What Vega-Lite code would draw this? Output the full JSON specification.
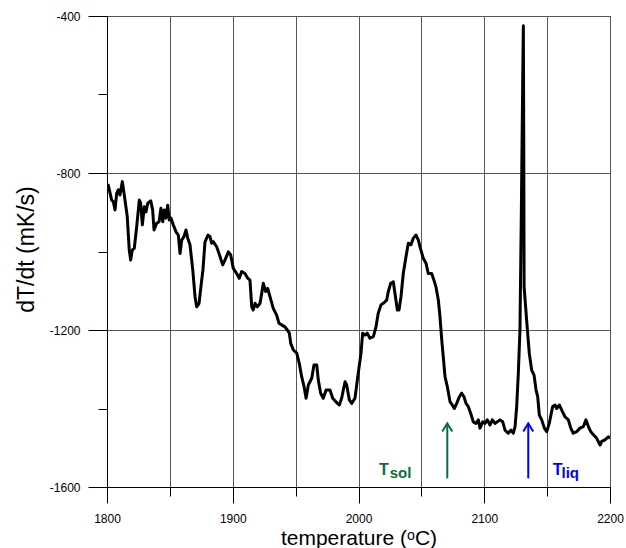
{
  "$schema": "https://vega.github.io/schema/vega-lite/v6.json",
  "autosize": "none",
  "width": 503,
  "height": 471,
  "padding": {"left": 107, "top": 16, "right": 16, "bottom": 61},
  "background": "white",
  "config": {
    "font": "Liberation Sans",
    "view": {"stroke": "#000000", "strokeWidth": 1},
    "axis": {"labelFont": "Liberation Sans", "titleFont": "Liberation Sans", "labelColor": "#000000", "titleColor": "#000000", "tickColor": "#000000", "domainColor": "#000000", "gridColor": "#555555", "gridOpacity": 1, "labelFontSize": 12, "titleFontWeight": "normal", "labelFlush": false}
  },
  "datasets": {
    "curve": [
      {"temperature":1800.0,"dTdt":-838},{"temperature":1801.0,"dTdt":-831},{"temperature":1803.7,"dTdt":-869},{"temperature":1805.0,"dTdt":-873},{"temperature":1806.4,"dTdt":-894},{"temperature":1807.7,"dTdt":-852},{"temperature":1809.0,"dTdt":-843},{"temperature":1810.3,"dTdt":-856},{"temperature":1812.2,"dTdt":-822},{"temperature":1814.3,"dTdt":-869},{"temperature":1816.1,"dTdt":-911},{"temperature":1817.7,"dTdt":-996},{"temperature":1818.8,"dTdt":-1022},{"temperature":1820.1,"dTdt":-996},{"temperature":1821.7,"dTdt":-992},{"temperature":1823.6,"dTdt":-937},{"temperature":1825.7,"dTdt":-869},{"temperature":1826.8,"dTdt":-877},{"temperature":1828.1,"dTdt":-932},{"temperature":1829.7,"dTdt":-886},{"temperature":1831.0,"dTdt":-899},{"temperature":1832.4,"dTdt":-877},{"temperature":1834.8,"dTdt":-871},{"temperature":1836.3,"dTdt":-894},{"temperature":1837.4,"dTdt":-945},{"temperature":1839.5,"dTdt":-928},{"temperature":1841.4,"dTdt":-924},{"temperature":1842.9,"dTdt":-890},{"temperature":1844.3,"dTdt":-924},{"temperature":1845.6,"dTdt":-894},{"temperature":1846.9,"dTdt":-915},{"temperature":1848.3,"dTdt":-882},{"temperature":1849.5,"dTdt":-920},{"temperature":1850.9,"dTdt":-915},{"temperature":1852.7,"dTdt":-932},{"temperature":1854.9,"dTdt":-950},{"temperature":1856.7,"dTdt":-958},{"temperature":1858.1,"dTdt":-1005},{"temperature":1859.4,"dTdt":-971},{"temperature":1861.2,"dTdt":-962},{"temperature":1862.8,"dTdt":-945},{"temperature":1864.2,"dTdt":-966},{"temperature":1866.0,"dTdt":-983},{"temperature":1868.2,"dTdt":-1047},{"temperature":1870.0,"dTdt":-1115},{"temperature":1871.3,"dTdt":-1141},{"temperature":1873.2,"dTdt":-1132},{"temperature":1875.3,"dTdt":-1073},{"temperature":1876.3,"dTdt":-1047},{"temperature":1877.9,"dTdt":-976},{"temperature":1880.3,"dTdt":-958},{"temperature":1881.9,"dTdt":-962},{"temperature":1883.2,"dTdt":-979},{"temperature":1884.5,"dTdt":-975},{"temperature":1887.2,"dTdt":-988},{"temperature":1889.9,"dTdt":-1013},{"temperature":1892.0,"dTdt":-1034},{"temperature":1893.8,"dTdt":-1022},{"temperature":1896.5,"dTdt":-1001},{"temperature":1898.4,"dTdt":-1009},{"temperature":1900.4,"dTdt":-1043},{"temperature":1903.1,"dTdt":-1056},{"temperature":1905.2,"dTdt":-1068},{"temperature":1907.1,"dTdt":-1051},{"temperature":1909.7,"dTdt":-1056},{"temperature":1911.9,"dTdt":-1068},{"temperature":1913.7,"dTdt":-1073},{"temperature":1915.1,"dTdt":-1141},{"temperature":1916.3,"dTdt":-1149},{"temperature":1917.7,"dTdt":-1132},{"temperature":1919.5,"dTdt":-1141},{"temperature":1921.7,"dTdt":-1132},{"temperature":1923.0,"dTdt":-1107},{"temperature":1924.3,"dTdt":-1081},{"temperature":1926.2,"dTdt":-1102},{"temperature":1927.8,"dTdt":-1094},{"temperature":1929.6,"dTdt":-1115},{"temperature":1932.2,"dTdt":-1145},{"temperature":1934.9,"dTdt":-1162},{"temperature":1936.8,"dTdt":-1183},{"temperature":1938.9,"dTdt":-1187},{"temperature":1941.5,"dTdt":-1192},{"temperature":1943.4,"dTdt":-1200},{"temperature":1945.0,"dTdt":-1208},{"temperature":1946.1,"dTdt":-1234},{"temperature":1948.2,"dTdt":-1251},{"temperature":1950.9,"dTdt":-1259},{"temperature":1952.9,"dTdt":-1285},{"temperature":1954.8,"dTdt":-1319},{"temperature":1956.7,"dTdt":-1344},{"temperature":1958.3,"dTdt":-1374},{"temperature":1960.1,"dTdt":-1340},{"temperature":1962.8,"dTdt":-1323},{"temperature":1964.6,"dTdt":-1289},{"temperature":1966.8,"dTdt":-1289},{"temperature":1968.0,"dTdt":-1327},{"temperature":1969.9,"dTdt":-1361},{"temperature":1972.0,"dTdt":-1374},{"temperature":1974.2,"dTdt":-1353},{"temperature":1977.3,"dTdt":-1353},{"temperature":1979.5,"dTdt":-1374},{"temperature":1982.1,"dTdt":-1383},{"temperature":1984.7,"dTdt":-1391},{"temperature":1986.6,"dTdt":-1374},{"temperature":1989.3,"dTdt":-1332},{"temperature":1990.6,"dTdt":-1340},{"temperature":1992.7,"dTdt":-1378},{"temperature":1994.6,"dTdt":-1387},{"temperature":1997.2,"dTdt":-1374},{"temperature":1999.8,"dTdt":-1310},{"temperature":2002.0,"dTdt":-1259},{"temperature":2003.3,"dTdt":-1208},{"temperature":2005.2,"dTdt":-1213},{"temperature":2007.0,"dTdt":-1208},{"temperature":2009.1,"dTdt":-1221},{"temperature":2011.8,"dTdt":-1217},{"temperature":2013.9,"dTdt":-1192},{"temperature":2015.7,"dTdt":-1157},{"temperature":2017.9,"dTdt":-1136},{"temperature":2019.7,"dTdt":-1132},{"temperature":2022.4,"dTdt":-1124},{"temperature":2023.7,"dTdt":-1102},{"temperature":2025.6,"dTdt":-1081},{"temperature":2027.7,"dTdt":-1077},{"temperature":2029.0,"dTdt":-1107},{"temperature":2030.9,"dTdt":-1149},{"temperature":2032.2,"dTdt":-1149},{"temperature":2033.8,"dTdt":-1115},{"temperature":2035.6,"dTdt":-1056},{"temperature":2037.8,"dTdt":-1013},{"temperature":2039.6,"dTdt":-979},{"temperature":2041.7,"dTdt":-983},{"temperature":2043.6,"dTdt":-966},{"temperature":2045.7,"dTdt":-958},{"temperature":2047.6,"dTdt":-971},{"temperature":2048.9,"dTdt":-988},{"temperature":2051.5,"dTdt":-1017},{"temperature":2053.7,"dTdt":-1030},{"temperature":2055.5,"dTdt":-1056},{"temperature":2058.2,"dTdt":-1056},{"temperature":2060.0,"dTdt":-1073},{"temperature":2061.6,"dTdt":-1090},{"temperature":2063.5,"dTdt":-1124},{"temperature":2064.8,"dTdt":-1166},{"temperature":2066.2,"dTdt":-1225},{"temperature":2067.4,"dTdt":-1268},{"temperature":2068.8,"dTdt":-1319},{"temperature":2070.6,"dTdt":-1344},{"temperature":2072.8,"dTdt":-1383},{"temperature":2074.6,"dTdt":-1391},{"temperature":2076.2,"dTdt":-1400},{"temperature":2078.1,"dTdt":-1387},{"temperature":2080.2,"dTdt":-1370},{"temperature":2082.1,"dTdt":-1361},{"temperature":2083.9,"dTdt":-1370},{"temperature":2085.5,"dTdt":-1387},{"temperature":2087.3,"dTdt":-1395},{"temperature":2089.2,"dTdt":-1412},{"temperature":2091.3,"dTdt":-1434},{"temperature":2093.4,"dTdt":-1438},{"temperature":2095.3,"dTdt":-1429},{"temperature":2096.6,"dTdt":-1450},{"temperature":2098.8,"dTdt":-1434},{"temperature":2100.6,"dTdt":-1438},{"temperature":2102.4,"dTdt":-1429},{"temperature":2104.6,"dTdt":-1442},{"temperature":2106.4,"dTdt":-1429},{"temperature":2108.5,"dTdt":-1438},{"temperature":2110.4,"dTdt":-1434},{"temperature":2112.5,"dTdt":-1429},{"temperature":2114.7,"dTdt":-1434},{"temperature":2116.5,"dTdt":-1455},{"temperature":2119.1,"dTdt":-1463},{"temperature":2121.3,"dTdt":-1455},{"temperature":2123.1,"dTdt":-1463},{"temperature":2124.5,"dTdt":-1446},{"temperature":2125.8,"dTdt":-1395},{"temperature":2127.1,"dTdt":-1310},{"temperature":2128.4,"dTdt":-1200},{"temperature":2129.5,"dTdt":-900},{"temperature":2130.6,"dTdt":-560},{"temperature":2131.1,"dTdt":-425},{"temperature":2131.4,"dTdt":-700},{"temperature":2131.7,"dTdt":-1090},{"temperature":2133.7,"dTdt":-1175},{"temperature":2135.8,"dTdt":-1259},{"temperature":2137.7,"dTdt":-1302},{"temperature":2139.6,"dTdt":-1315},{"temperature":2141.2,"dTdt":-1353},{"temperature":2142.5,"dTdt":-1370},{"temperature":2143.8,"dTdt":-1417},{"temperature":2145.7,"dTdt":-1429},{"temperature":2147.8,"dTdt":-1450},{"temperature":2149.7,"dTdt":-1459},{"temperature":2151.7,"dTdt":-1438},{"temperature":2154.4,"dTdt":-1395},{"temperature":2156.3,"dTdt":-1391},{"temperature":2157.6,"dTdt":-1400},{"temperature":2159.7,"dTdt":-1391},{"temperature":2161.6,"dTdt":-1404},{"temperature":2164.2,"dTdt":-1421},{"temperature":2166.9,"dTdt":-1429},{"temperature":2168.8,"dTdt":-1450},{"temperature":2170.8,"dTdt":-1463},{"temperature":2173.5,"dTdt":-1459},{"temperature":2176.1,"dTdt":-1450},{"temperature":2178.8,"dTdt":-1446},{"temperature":2180.9,"dTdt":-1429},{"temperature":2182.8,"dTdt":-1446},{"temperature":2184.7,"dTdt":-1459},{"temperature":2186.8,"dTdt":-1467},{"temperature":2189.4,"dTdt":-1476},{"temperature":2192.1,"dTdt":-1493},{"temperature":2193.4,"dTdt":-1484},{"temperature":2196.0,"dTdt":-1480},{"temperature":2198.7,"dTdt":-1472},{"temperature":2200.0,"dTdt":-1476}
    ],
    "arrows": [
      {"phase": "sol", "temperature": 2070.6, "tip": -1438, "base": -1578},
      {"phase": "liq", "temperature": 2135.0, "tip": -1438, "base": -1578}
    ],
    "labels": [
      {"phase": "sol", "temperature": 2016.3, "subTemperature": 2024.8, "dTdt": -1569, "subdTdt": -1577, "main": "T", "sub": "sol"},
      {"phase": "liq", "temperature": 2154.4, "subTemperature": 2161.4, "dTdt": -1569, "subdTdt": -1577, "main": "T", "sub": "liq"}
    ]
  },
  "resolve": {"axis": {"x": "independent", "y": "independent"}},
  "layer": [
    {
      "data": {"name": "curve"},
      "mark": {"type": "line", "color": "#000000", "strokeWidth": 3, "strokeJoin": "round", "clip": true},
      "encoding": {
        "x": {"field": "temperature", "type": "quantitative", "scale": {"domain": [1800, 2200], "nice": false, "zero": false},
          "axis": {"orient": "bottom", "values": [1800, 1900, 2000, 2100, 2200], "tickSize": 16, "labelPadding": 10, "grid": false, "labelFlush": false, "labelExpr": "datum.value + ''", "title": "temperature (ᵒC)", "titleFontSize": 21, "titleY": 57, "titleBaseline": "alphabetic", "titleX": 251.5, "titleAlign": "center"}},
        "y": {"field": "dTdt", "type": "quantitative", "scale": {"domain": [-1600, -400], "nice": false, "zero": false},
          "axis": {"orient": "left", "values": [-1600, -1200, -800, -400], "tickSize": 19, "labelPadding": 8, "grid": true, "labelFlush": false, "labelExpr": "datum.value + ''", "title": "dT/dt (mK/s)", "titleFontSize": 23, "titleX": -74, "titleY": 233, "titleAngle": -90, "titleBaseline": "alphabetic", "titleAlign": "center"}}
      }
    },
    {
      "data": {"name": "arrows"},
      "mark": {"type": "rule", "strokeWidth": 2},
      "encoding": {
        "x": {"field": "temperature", "type": "quantitative",
          "axis": {"orient": "bottom", "values": [1800, 1850, 1900, 1950, 2000, 2050, 2100, 2150, 2200], "tickSize": 9, "labels": false, "domain": false, "grid": true, "title": null}},
        "y": {"field": "tip", "type": "quantitative",
          "axis": {"orient": "left", "values": [-1600, -1400, -1200, -1000, -800, -600, -400], "tickSize": 9, "labels": false, "domain": false, "grid": false, "title": null}},
        "y2": {"field": "base"},
        "color": {"field": "phase", "type": "nominal", "scale": {"domain": ["sol", "liq"], "range": ["#0a6e3c", "#0000ff"]}, "legend": null}
      }
    },
    {
      "data": {"name": "arrows"},
      "mark": {"type": "point", "shape": "M-1,1.6L0,0L1,1.6", "size": 100, "filled": false, "strokeWidth": 2, "opacity": 1},
      "encoding": {
        "x": {"field": "temperature", "type": "quantitative", "axis": null},
        "y": {"field": "tip", "type": "quantitative", "axis": null},
        "stroke": {"field": "phase", "type": "nominal", "scale": {"domain": ["sol", "liq"], "range": ["#0a6e3c", "#0000ff"]}, "legend": null}
      }
    },
    {
      "data": {"name": "labels"},
      "mark": {"type": "text", "align": "left", "baseline": "alphabetic", "fontSize": 16, "fontWeight": "bold", "font": "Liberation Sans"},
      "encoding": {
        "x": {"field": "temperature", "type": "quantitative", "axis": null},
        "y": {"field": "dTdt", "type": "quantitative", "axis": null},
        "text": {"field": "main"},
        "color": {"field": "phase", "type": "nominal", "scale": {"domain": ["sol", "liq"], "range": ["#0a6e3c", "#0000ff"]}, "legend": null}
      }
    },
    {
      "data": {"name": "labels"},
      "mark": {"type": "text", "align": "left", "baseline": "alphabetic", "fontSize": 15, "fontWeight": "bold", "font": "Liberation Sans"},
      "encoding": {
        "x": {"field": "subTemperature", "type": "quantitative", "axis": null},
        "y": {"field": "subdTdt", "type": "quantitative", "axis": null},
        "text": {"field": "sub"},
        "color": {"field": "phase", "type": "nominal", "scale": {"domain": ["sol", "liq"], "range": ["#0a6e3c", "#0000ff"]}, "legend": null}
      }
    }
  ]
}
